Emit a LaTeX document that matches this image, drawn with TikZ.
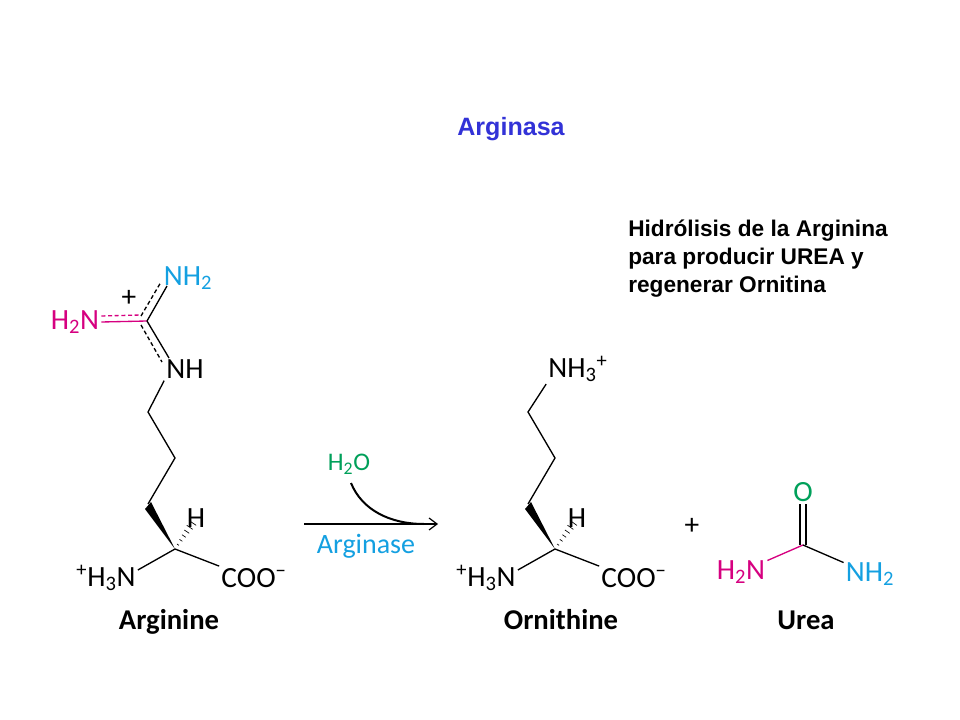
\documentclass[tikz,border=0pt]{standalone}
\usepackage{fontspec}
\setmainfont{Carlito}
\newfontfamily\arialfont{Liberation Sans}
\usetikzlibrary{arrows.meta,calc}
\definecolor{rosa}{RGB}{214,0,128}
\definecolor{celeste}{RGB}{20,160,225}
\definecolor{verde}{RGB}{0,160,90}
\definecolor{azul}{RGB}{50,50,215}
\tikzset{
    atom/.style={inner sep=1.5pt,font=\fontsize{22}{24}\selectfont},
    title/.style={inner sep=0pt,font=\fontsize{21.5}{24}\selectfont\bfseries},
    note/.style={inner sep=0pt,align=left,anchor=north west,font=\arialfont\fontsize{17}{21}\selectfont\bfseries},
    bond/.style={line width=1pt},
}
\newcommand\hatchbond[2]{\foreach \t/\w in {.14/.9,.28/1.3,.42/1.7,.56/2.2,.7/2.7,.84/3.2}{
    \draw[line width=.5pt] ($(#1)!\t!(#2)!\w pt!90:(#2)$) -- ($(#1)!\t!(#2)!\w pt!-90:(#2)$);}}
\begin{document}
\begin{tikzpicture}[x=.75pt,y=-.75pt]
    \useasboundingbox[fill=white] (0,0) rectangle (960,720);
    % titles
    \node(head)[inner sep=0pt,text=azul,font=\arialfont\fontsize{18.8}{20}\selectfont\bfseries] at (511,129) {Arginasa};
    \node(remark)[note] at (628,220) {Hidrólisis de la Arginina\\para producir UREA y\\regenerar Ornitina};
    % arginine
    \node(argNHa)[atom,text=celeste] at (188,278) {NH\textsubscript{2}};
    \node(argNHb)[atom,text=rosa] at (75,322) {H\textsubscript{2}N};
    \node(argNH)[atom] at (185,369) {NH};
    \node(argPlus)[atom] at (129,298) {+};
    \node(argH)[atom] at (196,518) {H};
    \node(argN)[atom] at (106,578) {\textsuperscript{+}H\textsubscript{3}N};
    \node(argCOO)[atom] at (254,578) {COO\textsuperscript{−}};
    \node(argName)[title] at (169,622) {Arginine};
    \coordinate(g) at (147,321);
    \coordinate(a1) at (148,412);
    \coordinate(a2) at (175,458);
    \coordinate(a3) at (148,504);
    \coordinate(a4) at (175,549);
    \draw[bond,rosa] (argNHb.east) -- (g);
    \draw[bond,rosa,densely dashed] ($(argNHb.east)+(0,-6)$) -- ($(g)+(-6,-6)$);
    \draw[bond] (g) -- (167,286);
    \draw[bond,densely dashed] ($(g)+(-6,-5)$) -- (161,282);
    \draw[bond] (g) -- (169,358);
    \draw[bond,densely dashed] ($(g)+(-6,4)$) -- (162,362);
    \draw[bond] (argNH.south west) -- (a1) -- (a2) -- (a3);
    \fill (a4) -- (151,502) -- (145,509) -- cycle;
    \draw[bond] (a4) -- ($(argN.east)+(0,-8)$);
    \draw[bond] (a4) -- (argCOO.north west);
    \hatchbond{a4}{argH}
    % reaction arrow
    \coordinate(arrowL) at (304,524);
    \coordinate(arrowR) at (438,524);
    \node(water)[atom,text=verde,font=\fontsize{19}{21}\selectfont] at (349,464) {H\textsubscript{2}O};
    \node(enzyme)[atom,text=celeste,font=\fontsize{21}{23}\selectfont] at (366,546) {Arginase};
    \draw[line width=1.5pt,-{Straight Barb[length=6pt,width=9pt,line width=.9pt]}] (arrowL) -- (arrowR);
    \draw[line width=1.5pt] (351,483) .. controls (362,510) and (390,524) .. (424,524);
    % ornithine
    \node(ornN)[atom] at (578,369) {NH\textsubscript{3}\textsuperscript{+}};
    \node(ornH)[atom] at (577,518) {H};
    \node(ornNb)[atom] at (486,578) {\textsuperscript{+}H\textsubscript{3}N};
    \node(ornCOO)[atom] at (634,578) {COO\textsuperscript{−}};
    \node(ornName)[title] at (561,620) {Ornithine};
    \coordinate(o1) at (528,412);
    \coordinate(o2) at (555,458);
    \coordinate(o3) at (528,504);
    \coordinate(o4) at (555,549);
    \draw[bond] (ornN.south west) -- (o1) -- (o2) -- (o3);
    \fill (o4) -- (531,502) -- (525,509) -- cycle;
    \draw[bond] (o4) -- ($(ornNb.east)+(0,-8)$);
    \draw[bond] (o4) -- (ornCOO.north west);
    \hatchbond{o4}{ornH}
    % urea
    \node(plus)[atom] at (692,526) {+};
    \node(ureaO)[atom,text=verde] at (803,492) {O};
    \node(ureaNa)[atom,text=rosa] at (741,572) {H\textsubscript{2}N};
    \node(ureaNb)[atom,text=celeste] at (870,574) {NH\textsubscript{2}};
    \node(ureaName)[title] at (806,620) {Urea};
    \coordinate(u) at (803,545);
    \draw[bond,rosa] (u) -- (ureaNa);
    \draw[bond] (u) -- (ureaNb);
    \draw[bond] ($(u)+(-3,0)$) -- ($(ureaO.south)+(-3,0)$);
    \draw[bond] ($(u)+(3,0)$) -- ($(ureaO.south)+(3,0)$);
\end{tikzpicture}
\end{document}
